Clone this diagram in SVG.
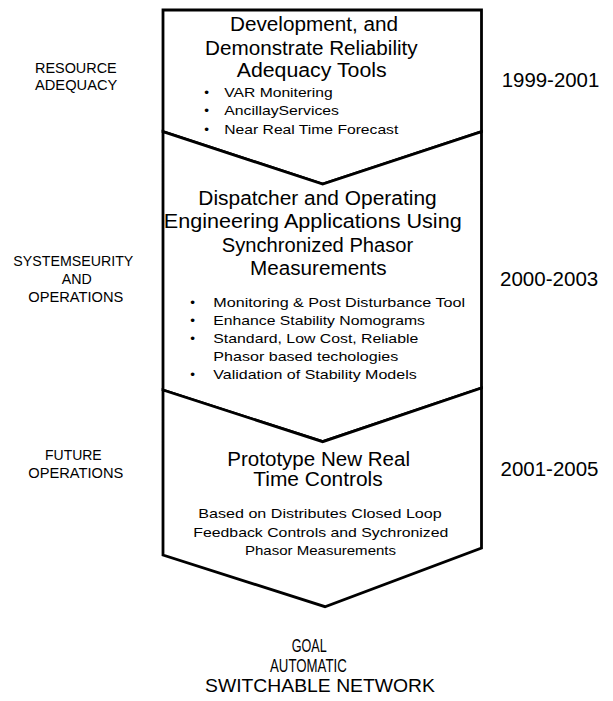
<svg xmlns="http://www.w3.org/2000/svg" width="613" height="701" viewBox="0 0 613 701">
<style>
.stage{fill:#fff;stroke:#000;stroke-width:2.8;stroke-linejoin:miter}
text{font-family:"Liberation Sans",Arial,sans-serif;fill:#000}
.t{font-size:20px}
.b{font-size:13.5px}
.l{font-size:14.5px}
.y{font-size:19.5px}
.g{font-size:18.5px}
</style>
<rect width="613" height="701" fill="#fff"/>
<g id="stage1">
<polygon class="stage" points="163,10 481.5,10 481.5,131.7 322.7,184 163,131.7"/>
<text class="t" x="230" y="31" textLength="168" lengthAdjust="spacingAndGlyphs">Development, and</text>
<text class="t" x="205" y="55" textLength="212.7" lengthAdjust="spacingAndGlyphs">Demonstrate Reliability</text>
<text class="t" x="236.7" y="77.3" textLength="150" lengthAdjust="spacingAndGlyphs">Adequacy Tools</text>
<text class="b" x="204.3" y="97.3">•</text>
<text class="b" x="224.3" y="97.3" textLength="108.4" lengthAdjust="spacingAndGlyphs">VAR Monitering</text>
<text class="b" x="204.3" y="115">•</text>
<text class="b" x="224.3" y="115" textLength="114.7" lengthAdjust="spacingAndGlyphs">AncillayServices</text>
<text class="b" x="204.3" y="133.5">•</text>
<text class="b" x="224.3" y="133.5" textLength="174" lengthAdjust="spacingAndGlyphs">Near Real Time Forecast</text>
</g>
<g id="stage2">
<polygon class="stage" points="163,131.7 322.7,184 481.5,131.7 481.5,388 322.7,441.7 163,390"/>
<text class="t" x="198.3" y="205" textLength="238.4" lengthAdjust="spacingAndGlyphs">Dispatcher and Operating</text>
<text class="t" x="163.8" y="228.4" textLength="297.9" lengthAdjust="spacingAndGlyphs">Engineering Applications Using</text>
<text class="t" x="221.7" y="251.7" textLength="191.6" lengthAdjust="spacingAndGlyphs">Synchronized Phasor</text>
<text class="t" x="250" y="275" textLength="136.7" lengthAdjust="spacingAndGlyphs">Measurements</text>
<text class="b" x="190.3" y="307.3">•</text>
<text class="b" x="213.3" y="307.3" textLength="251.7" lengthAdjust="spacingAndGlyphs">Monitoring &amp; Post Disturbance Tool</text>
<text class="b" x="190.3" y="325">•</text>
<text class="b" x="213.3" y="325" textLength="211.7" lengthAdjust="spacingAndGlyphs">Enhance Stability Nomograms</text>
<text class="b" x="190.3" y="342.7">•</text>
<text class="b" x="213.3" y="342.7" textLength="205" lengthAdjust="spacingAndGlyphs">Standard, Low Cost, Reliable</text>
<text class="b" x="213.3" y="360.7" textLength="185" lengthAdjust="spacingAndGlyphs">Phasor based techologies</text>
<text class="b" x="190.3" y="379.3">•</text>
<text class="b" x="213.3" y="379.3" textLength="203.4" lengthAdjust="spacingAndGlyphs">Validation of Stability Models</text>
</g>
<g id="stage3">
<polygon class="stage" points="163,390 322.7,441.7 481.5,388 481.5,548 325,606.7 163,555"/>
<text class="t" x="227.3" y="466" textLength="182.7" lengthAdjust="spacingAndGlyphs">Prototype New Real</text>
<text class="t" x="253.3" y="486" textLength="129.4" lengthAdjust="spacingAndGlyphs">Time Controls</text>
<text class="b" x="198.3" y="518.3" textLength="243.4" lengthAdjust="spacingAndGlyphs">Based on Distributes Closed Loop</text>
<text class="b" x="193.3" y="536.7" textLength="255" lengthAdjust="spacingAndGlyphs">Feedback Controls and Sychronized</text>
<text class="b" x="245" y="555" textLength="151" lengthAdjust="spacingAndGlyphs">Phasor Measurements</text>
</g>
<g id="label-resource">
<text class="l" x="35" y="73.3" textLength="81.7" lengthAdjust="spacingAndGlyphs">RESOURCE</text>
<text class="l" x="35" y="90" textLength="82.3" lengthAdjust="spacingAndGlyphs">ADEQUACY</text>
</g>
<g id="label-security">
<text class="l" x="13.3" y="266" textLength="120" lengthAdjust="spacingAndGlyphs">SYSTEMSEURITY</text>
<text class="l" x="61.7" y="283.5" textLength="30" lengthAdjust="spacingAndGlyphs">AND</text>
<text class="l" x="28.3" y="301.7" textLength="95" lengthAdjust="spacingAndGlyphs">OPERATIONS</text>
</g>
<g id="label-future">
<text class="l" x="45" y="460" textLength="56.7" lengthAdjust="spacingAndGlyphs">FUTURE</text>
<text class="l" x="28.3" y="477.5" textLength="95" lengthAdjust="spacingAndGlyphs">OPERATIONS</text>
</g>
<g id="year1"><text class="y" x="501.7" y="86.7" textLength="97.6" lengthAdjust="spacingAndGlyphs">1999-2001</text></g>
<g id="year2"><text class="y" x="500" y="286" textLength="98.3" lengthAdjust="spacingAndGlyphs">2000-2003</text></g>
<g id="year3"><text class="y" x="500.5" y="476" textLength="98" lengthAdjust="spacingAndGlyphs">2001-2005</text></g>
<g id="goal">
<text class="g" x="291.7" y="651.7" textLength="35" lengthAdjust="spacingAndGlyphs">GOAL</text>
<text class="g" x="270" y="671.7" textLength="76.7" lengthAdjust="spacingAndGlyphs">AUTOMATIC</text>
<text class="g" x="205" y="691.7" textLength="230" lengthAdjust="spacingAndGlyphs">SWITCHABLE  NETWORK</text>
</g>
<g id="connectors"></g>
</svg>
